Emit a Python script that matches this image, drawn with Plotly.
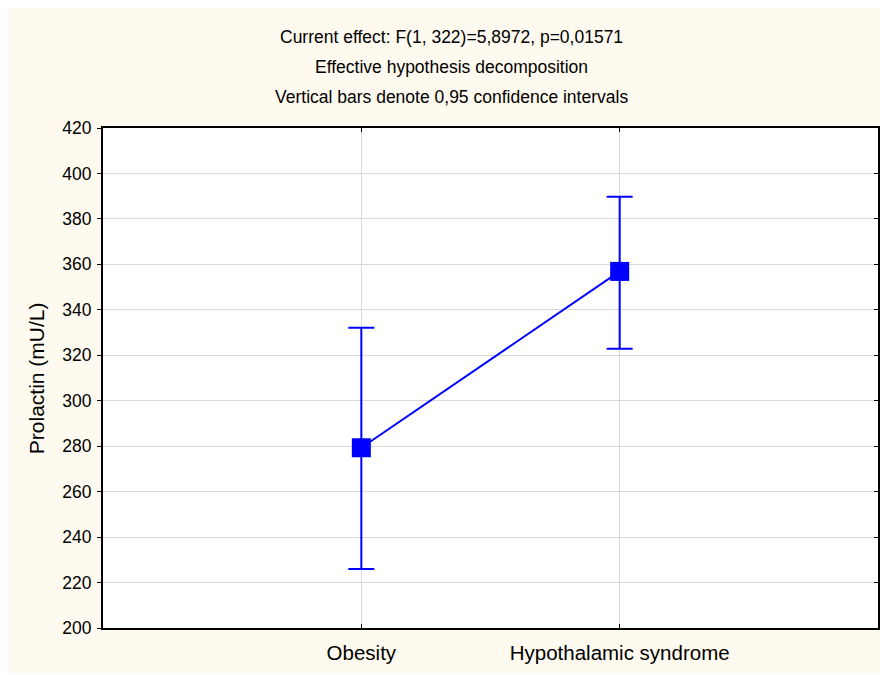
import plotly.graph_objects as go

categories = ["Obesity", "Hypothalamic syndrome"]
means = [279.3, 356.9]
upper = [332.1, 389.8]
lower = [226.0, 322.9]
title_lines = [
    "Current effect: F(1, 322)=5,8972, p=0,01571",
    "Effective hypothesis decomposition",
    "Vertical bars denote 0,95 confidence intervals",
]
y_title = "Prolactin (mU/L)"
y_ticks = list(range(200, 421, 20))

err_plus = [u - m for u, m in zip(upper, means)]
err_minus = [m - l for m, l in zip(means, lower)]

FONT = "Liberation Sans, Arial, sans-serif"
BLUE = "#0000FF"
CREAM = "#FFFAEF"

fig = go.Figure()
fig.add_trace(go.Scatter(
    x=categories, y=means, mode="lines+markers",
    line=dict(color=BLUE, width=2),
    marker=dict(symbol="square", size=19, color=BLUE),
    error_y=dict(type="data", symmetric=False, array=err_plus, arrayminus=err_minus,
                 color=BLUE, thickness=2, width=13),
    showlegend=False,
))
# invisible trace on a right-side axis to get inward ticks there
fig.add_trace(go.Scatter(x=categories, y=means, yaxis="y2", mode="markers",
                         marker=dict(opacity=0), showlegend=False, hoverinfo="skip"))

# figure is offset by 8px body margin on the page
W, H = 880, 665
L, R, T, B = 95, 8, 120, 45
pw, ph = W - L - R, H - T - B

def px(x_page):
    return (x_page - 8 - L) / pw

def py(y_page):
    return (H - B - (y_page - 8)) / ph

annotations = []
for i, t in enumerate(title_lines):
    annotations.append(dict(text=t, xref="paper", yref="paper", x=px(452), y=py(37 + 30 * i),
                            xanchor="center", yanchor="middle", showarrow=False,
                            font=dict(family=FONT, size=17.5, color="black")))
annotations.append(dict(text=y_title, xref="paper", yref="paper", x=px(36), y=py(378),
                        xanchor="center", yanchor="middle", showarrow=False, textangle=-90,
                        font=dict(family=FONT, size=21, color="black")))

fig.update_layout(
    width=W, height=H,
    margin=dict(l=L, r=R, t=T, b=B),
    paper_bgcolor=CREAM, plot_bgcolor="white",
    font=dict(family=FONT, color="black"),
    annotations=annotations,
    xaxis=dict(range=[-1, 2], showline=True, linecolor="black", linewidth=2, mirror="ticks",
               ticks="inside", ticklen=4, tickcolor="black", showgrid=True, gridcolor="#D9D9D9",
               gridwidth=1, tickfont=dict(family=FONT, size=20.5, color="black"), zeroline=False,
               ticklabelstandoff=5),
    yaxis=dict(range=[200, 420], tickvals=y_ticks, showline=True, linecolor="black", linewidth=2,
               mirror=True, ticks="outside", ticklen=4, tickcolor="black", showgrid=True,
               gridcolor="#D9D9D9", gridwidth=1, tickfont=dict(family=FONT, size=17.5, color="black"),
               zeroline=False, ticklabelstandoff=2),
    yaxis2=dict(overlaying="y", side="right", range=[200, 420], tickvals=y_ticks, ticks="inside",
                ticklen=4, tickcolor="black", showticklabels=False, showgrid=False, zeroline=False,
                showline=False),
)

fig.write_html("out.html")
